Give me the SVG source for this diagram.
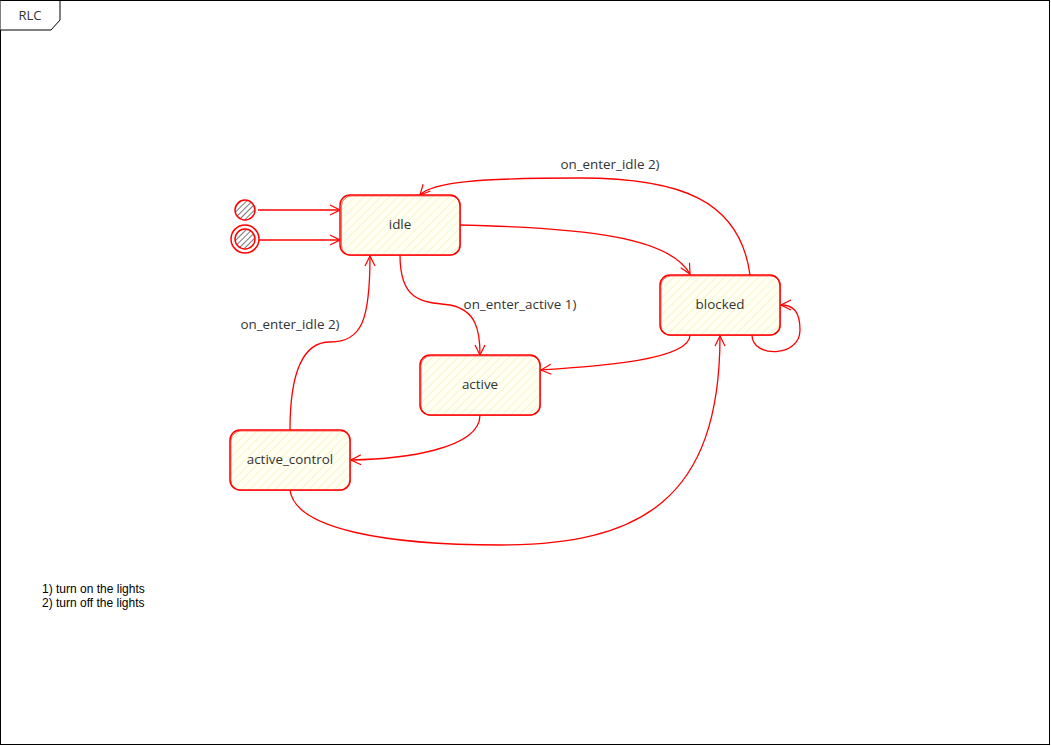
<svg xmlns="http://www.w3.org/2000/svg" width="1051" height="746" viewBox="0 0 1051 746">
<defs>
<pattern id="hatch" width="6" height="6" patternUnits="userSpaceOnUse" patternTransform="rotate(45)">
<rect width="6" height="6" fill="#fffff4"/>
<line x1="0" y1="0" x2="0" y2="6" stroke="#f6f6c8" stroke-width="2"/>
</pattern>
<pattern id="ghatch" width="4" height="4" patternUnits="userSpaceOnUse" patternTransform="rotate(45)">
<rect width="4" height="4" fill="#ffffff"/>
<line x1="0" y1="0" x2="0" y2="4" stroke="#555" stroke-width="1.6"/>
</pattern>
<marker id="arr" viewBox="0 0 12 12" refX="11" refY="6" markerWidth="12" markerHeight="12" markerUnits="userSpaceOnUse" orient="auto">
<path d="M1,1 L11,6 L1,11" fill="none" stroke="#ff0000" stroke-width="1.2"/>
</marker>
</defs>
<style>
.frame{fill:#ffffff;stroke:#000;stroke-width:1}
.state{fill:url(#hatch);stroke:#ff0000;stroke-width:1.5}
.state2{fill:none;stroke:#ff0000;stroke-width:0.8;opacity:0.7}
.lbl{font-family:"Open Sans","Noto Sans","DejaVu Sans",sans-serif;font-size:13.4px;fill:#333;text-anchor:middle;dominant-baseline:central}
.note{font-family:"Liberation Sans",Arial,sans-serif;font-size:12px;fill:#000}
.edge{fill:none;stroke:#ff0000;stroke-width:1.3;marker-end:url(#arr)}
.init{fill:url(#ghatch);stroke:#ff0000;stroke-width:1.5}
</style>
<rect class="frame" x="0.5" y="0.5" width="1049" height="744"/>
<g id="frame-tab">
<path d="M0.5,0.5 H60 V20 L51,30 H0.5" fill="#fff" stroke="#000" stroke-width="1"/>
<text x="30" y="15" font-family="'Open Sans','Noto Sans',sans-serif" font-size="13" fill="#333" text-anchor="middle" dominant-baseline="central">RLC</text>
</g>
<g id="connectors">
<path class="edge" d="M258,210 L340,210"/>
<path class="edge" d="M259,240 L340,240"/>
<path class="edge" d="M460,225 C590,228 670,238 690,274"/>
<path class="edge" d="M750,275 C740,200 680,178 580,178 C480,178 432,182 420,195"/>
<path class="edge" d="M752,335 C752,358 800,358 800,330 C800,310 792,305 781,305"/>
<path class="edge" d="M690,335 C690,360 600,366 541,370"/>
<path class="edge" d="M400,255 C400,300 420,302 450,305 C476,310 480,330 480,355"/>
<path class="edge" d="M480,415 C480,450 400,459 351,460"/>
<path class="edge" d="M290,430 C290,380 300,342 330,342 C362,342 370,320 370,256"/>
<path class="edge" d="M290,490 C295,530 390,545 500,545 C640,545 720,500 720,336"/>
<text class="lbl" x="610" y="164">on_enter_idle 2)</text>
<text class="lbl" x="520" y="304">on_enter_active 1)</text>
<text class="lbl" x="290" y="324">on_enter_idle 2)</text>
</g>
<g id="init1">
<circle class="init" cx="245" cy="210" r="10"/>
</g>
<g id="init2">
<circle cx="245" cy="239" r="14" fill="none" stroke="#ff0000" stroke-width="1.5"/>
<circle class="init" cx="245" cy="239" r="10"/>
</g>
<g id="idle">
<rect class="state" x="340" y="195" width="120" height="60" rx="10"/>
<rect class="state2" x="341.5" y="196" width="119" height="59.5" rx="10"/>
<text class="lbl" x="400" y="224">idle</text>
</g>
<g id="blocked">
<rect class="state" x="660" y="275" width="120" height="60" rx="10"/>
<rect class="state2" x="661" y="276" width="119.5" height="59.5" rx="10"/>
<text class="lbl" x="720" y="304">blocked</text>
</g>
<g id="active">
<rect class="state" x="420" y="355" width="120" height="60" rx="10"/>
<rect class="state2" x="421" y="356" width="119.5" height="59.5" rx="10"/>
<text class="lbl" x="480" y="384">active</text>
</g>
<g id="active_control">
<rect class="state" x="230" y="430" width="120" height="60" rx="10"/>
<rect class="state2" x="231" y="431" width="119.5" height="59.5" rx="10"/>
<text class="lbl" x="290" y="459">active_control</text>
</g>
<g id="notes">
<text class="note" x="42" y="593">1) turn on the lights</text>
<text class="note" x="42" y="607">2) turn off the lights</text>
</g>
</svg>
